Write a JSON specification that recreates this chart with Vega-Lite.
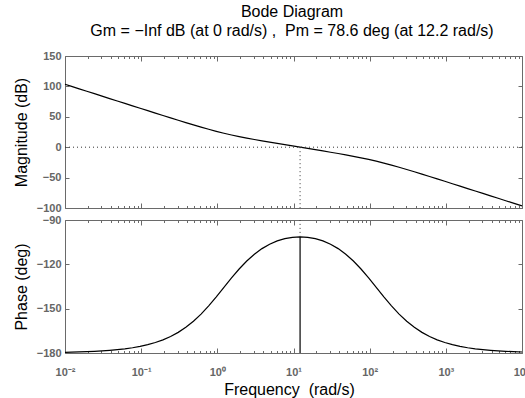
{
  "$schema": "https://vega.github.io/schema/vega-lite/v6.json",
  "autosize": {"type": "pad"},
  "padding": {"left": 13, "top": 4, "right": 0, "bottom": 0},
  "background": "white",
  "config": {
    "view": {"stroke": null},
    "font": "Liberation Sans",
    "axis": {
      "grid": false,
      "domainColor": "#6a6a6a",
      "domainWidth": 1,
      "tickColor": "#6a6a6a",
      "tickWidth": 1,
      "labelColor": "#666666",
      "labelFont": "Liberation Sans",
      "labelFontSize": 11,
      "labelFontWeight": "bold",
      "titleFont": "Liberation Sans",
      "titleFontSize": 16,
      "titleFontWeight": "normal",
      "titleColor": "black"
    }
  },
  "title": {
    "text": "Bode Diagram",
    "subtitle": "Gm = −Inf dB (at 0 rad/s) ,\u00a0 Pm = 78.6 deg (at 12.2 rad/s)",
    "font": "Liberation Sans",
    "subtitleFont": "Liberation Sans",
    "fontSize": 16,
    "subtitleFontSize": 16,
    "fontWeight": "normal",
    "color": "black",
    "subtitleColor": "black",
    "anchor": "middle",
    "offset": 11,
    "subtitlePadding": 3,
    "dx": 20
  },
  "datasets": {
    "bode": [
      {"freq": 0.01, "mag": 103.46, "phase": -179.53},
      {"freq": 0.0122, "mag": 100.0, "phase": -179.43},
      {"freq": 0.015359, "mag": 96.0, "phase": -179.29},
      {"freq": 0.019336, "mag": 92.0, "phase": -179.10},
      {"freq": 0.024343, "mag": 88.0, "phase": -178.87},
      {"freq": 0.030645, "mag": 84.0, "phase": -178.58},
      {"freq": 0.03858, "mag": 80.0, "phase": -178.21},
      {"freq": 0.048569, "mag": 76.01, "phase": -177.74},
      {"freq": 0.061145, "mag": 72.01, "phase": -177.16},
      {"freq": 0.076977, "mag": 68.02, "phase": -176.43},
      {"freq": 0.096908, "mag": 64.03, "phase": -175.50},
      {"freq": 0.122, "mag": 60.04, "phase": -174.35},
      {"freq": 0.15359, "mag": 56.07, "phase": -172.90},
      {"freq": 0.19336, "mag": 52.11, "phase": -171.09},
      {"freq": 0.24343, "mag": 48.17, "phase": -168.83},
      {"freq": 0.30645, "mag": 44.27, "phase": -166.04},
      {"freq": 0.3858, "mag": 40.41, "phase": -162.63},
      {"freq": 0.48569, "mag": 36.64, "phase": -158.52},
      {"freq": 0.61145, "mag": 32.97, "phase": -153.67},
      {"freq": 0.76977, "mag": 29.46, "phase": -148.10},
      {"freq": 0.96908, "mag": 26.12, "phase": -142.00},
      {"freq": 1.22, "mag": 23.01, "phase": -135.57},
      {"freq": 1.5359, "mag": 20.12, "phase": -129.18},
      {"freq": 1.9336, "mag": 17.45, "phase": -123.17},
      {"freq": 2.4343, "mag": 14.97, "phase": -117.76},
      {"freq": 3.0645, "mag": 12.64, "phase": -113.15},
      {"freq": 3.858, "mag": 10.41, "phase": -109.36},
      {"freq": 4.8569, "mag": 8.26, "phase": -106.38},
      {"freq": 6.1145, "mag": 6.16, "phase": -104.15},
      {"freq": 7.6977, "mag": 4.09, "phase": -102.62},
      {"freq": 9.6908, "mag": 2.04, "phase": -101.72},
      {"freq": 12.2, "mag": 0.0, "phase": -101.42},
      {"freq": 15.359, "mag": -2.04, "phase": -101.72},
      {"freq": 19.336, "mag": -4.09, "phase": -102.62},
      {"freq": 24.343, "mag": -6.16, "phase": -104.15},
      {"freq": 30.645, "mag": -8.26, "phase": -106.38},
      {"freq": 38.58, "mag": -10.41, "phase": -109.36},
      {"freq": 48.569, "mag": -12.64, "phase": -113.15},
      {"freq": 61.145, "mag": -14.97, "phase": -117.76},
      {"freq": 76.977, "mag": -17.45, "phase": -123.17},
      {"freq": 96.908, "mag": -20.12, "phase": -129.18},
      {"freq": 122, "mag": -23.01, "phase": -135.57},
      {"freq": 153.59, "mag": -26.12, "phase": -142.00},
      {"freq": 193.36, "mag": -29.46, "phase": -148.10},
      {"freq": 243.43, "mag": -32.97, "phase": -153.67},
      {"freq": 306.45, "mag": -36.64, "phase": -158.52},
      {"freq": 385.8, "mag": -40.41, "phase": -162.63},
      {"freq": 485.69, "mag": -44.27, "phase": -166.04},
      {"freq": 611.45, "mag": -48.17, "phase": -168.83},
      {"freq": 769.77, "mag": -52.11, "phase": -171.09},
      {"freq": 969.08, "mag": -56.07, "phase": -172.90},
      {"freq": 1220, "mag": -60.04, "phase": -174.35},
      {"freq": 1535.9, "mag": -64.03, "phase": -175.50},
      {"freq": 1933.6, "mag": -68.02, "phase": -176.43},
      {"freq": 2434.3, "mag": -72.01, "phase": -177.16},
      {"freq": 3064.5, "mag": -76.01, "phase": -177.74},
      {"freq": 3858, "mag": -80.0, "phase": -178.21},
      {"freq": 4856.9, "mag": -84.0, "phase": -178.58},
      {"freq": 6114.5, "mag": -88.0, "phase": -178.87},
      {"freq": 7697.7, "mag": -92.0, "phase": -179.10},
      {"freq": 10000, "mag": -96.55, "phase": -179.31}
    ],
    "margin": [
      {"freq": 12.2, "mag0": 0, "magBottom": -100, "pm": -101.42, "phaseTop": -90, "phaseBottom": -180}
    ]
  },
  "spacing": 12,
  "bounds": "flush",
  "vconcat": [
    {
      "width": 457,
      "height": 152,
      "layer": [
        {
          "data": {"name": "bode"},
          "mark": {"type": "line", "color": "black", "strokeWidth": 1.2},
          "encoding": {
            "x": {
              "field": "freq", "type": "quantitative",
              "scale": {"type": "log", "domain": [0.01, 10000], "nice": false},
              "axis": {
                "orient": "bottom", "title": null, "labels": false,
                "values": [0.01,0.02,0.03,0.04,0.05,0.06,0.07,0.08,0.09,0.1,0.2,0.3,0.4,0.5,0.6,0.7,0.8,0.9,1,2,3,4,5,6,7,8,9,10,20,30,40,50,60,70,80,90,100,200,300,400,500,600,700,800,900,1000,2000,3000,4000,5000,6000,7000,8000,9000,10000],
                "tickSize": {"condition": {"test": "indexof([0.01,0.1,1,10,100,1000,10000], datum.value) >= 0", "value": -5}, "value": -2.5}
              }
            },
            "y": {
              "field": "mag", "type": "quantitative",
              "scale": {"domain": [-100, 150], "nice": false, "zero": false},
              "axis": {
                "orient": "left", "title": "Magnitude (dB)",
                "values": [-100, -50, 0, 50, 100, 150],
                "tickSize": -4, "labelPadding": 8, "titlePadding": 7
              }
            }
          }
        },
        {
          "data": {"name": "margin"},
          "mark": {"type": "rule", "color": "#333333", "strokeDash": [1, 3], "strokeWidth": 1},
          "encoding": {
            "x": {
              "field": "freq", "type": "quantitative",
              "axis": {
                "orient": "top", "title": null, "labels": false,
                "values": [0.01,0.02,0.03,0.04,0.05,0.06,0.07,0.08,0.09,0.1,0.2,0.3,0.4,0.5,0.6,0.7,0.8,0.9,1,2,3,4,5,6,7,8,9,10,20,30,40,50,60,70,80,90,100,200,300,400,500,600,700,800,900,1000,2000,3000,4000,5000,6000,7000,8000,9000,10000],
                "tickSize": {"condition": {"test": "indexof([0.01,0.1,1,10,100,1000,10000], datum.value) >= 0", "value": -5}, "value": -2.5}
              }
            },
            "y": {
              "field": "mag0", "type": "quantitative",
              "axis": {"orient": "right", "title": null, "labels": false, "values": [-100, -50, 0, 50, 100, 150], "tickSize": -4}
            },
            "y2": {"field": "magBottom"}
          }
        },
        {
          "data": {"name": "margin"},
          "mark": {"type": "rule", "color": "#333333", "strokeDash": [1, 3], "strokeWidth": 1},
          "encoding": {
            "y": {"field": "mag0", "type": "quantitative", "axis": null}
          }
        }
      ],
      "resolve": {"axis": {"x": "independent", "y": "independent"}}
    },
    {
      "width": 457,
      "height": 133,
      "layer": [
        {
          "data": {"name": "bode"},
          "mark": {"type": "line", "color": "black", "strokeWidth": 1.2},
          "encoding": {
            "x": {
              "field": "freq", "type": "quantitative",
              "scale": {"type": "log", "domain": [0.01, 10000], "nice": false},
              "axis": {
                "orient": "bottom", "title": "Frequency\u00a0 (rad/s)", "titleX": 224,
                "values": [0.01,0.02,0.03,0.04,0.05,0.06,0.07,0.08,0.09,0.1,0.2,0.3,0.4,0.5,0.6,0.7,0.8,0.9,1,2,3,4,5,6,7,8,9,10,20,30,40,50,60,70,80,90,100,200,300,400,500,600,700,800,900,1000,2000,3000,4000,5000,6000,7000,8000,9000,10000],
                "labelExpr": "datum.value==0.01?'10⁻²':datum.value==0.1?'10⁻¹':datum.value==1?'10⁰':datum.value==10?'10¹':datum.value==100?'10²':datum.value==1000?'10³':datum.value==10000?'10⁴':''",
                "labelOverlap": false,
                "labelFlush": false,
                "labelPadding": 18,
                "titlePadding": 2,
                "tickSize": {"condition": {"test": "indexof([0.01,0.1,1,10,100,1000,10000], datum.value) >= 0", "value": -5}, "value": -2.5}
              }
            },
            "y": {
              "field": "phase", "type": "quantitative",
              "scale": {"domain": [-180, -90], "nice": false, "zero": false},
              "axis": {
                "orient": "left", "title": "Phase (deg)",
                "values": [-180, -150, -120, -90],
                "tickSize": -4, "labelPadding": 8, "titlePadding": 7
              }
            }
          }
        },
        {
          "data": {"name": "margin"},
          "mark": {"type": "rule", "color": "black", "strokeWidth": 1.2},
          "encoding": {
            "x": {
              "field": "freq", "type": "quantitative",
              "axis": {
                "orient": "top", "title": null, "labels": false,
                "values": [0.01,0.02,0.03,0.04,0.05,0.06,0.07,0.08,0.09,0.1,0.2,0.3,0.4,0.5,0.6,0.7,0.8,0.9,1,2,3,4,5,6,7,8,9,10,20,30,40,50,60,70,80,90,100,200,300,400,500,600,700,800,900,1000,2000,3000,4000,5000,6000,7000,8000,9000,10000],
                "tickSize": {"condition": {"test": "indexof([0.01,0.1,1,10,100,1000,10000], datum.value) >= 0", "value": -5}, "value": -2.5}
              }
            },
            "y": {
              "field": "phaseBottom", "type": "quantitative",
              "axis": {"orient": "right", "title": null, "labels": false, "values": [-180, -150, -120, -90], "tickSize": -4}
            },
            "y2": {"field": "pm"}
          }
        },
        {
          "data": {"name": "margin"},
          "mark": {"type": "rule", "color": "#333333", "strokeDash": [1, 3], "strokeWidth": 1},
          "encoding": {
            "x": {"field": "freq", "type": "quantitative", "axis": null},
            "y": {"field": "pm", "type": "quantitative", "axis": null},
            "y2": {"field": "phaseTop"}
          }
        }
      ],
      "resolve": {"axis": {"x": "independent", "y": "independent"}}
    }
  ]
}
